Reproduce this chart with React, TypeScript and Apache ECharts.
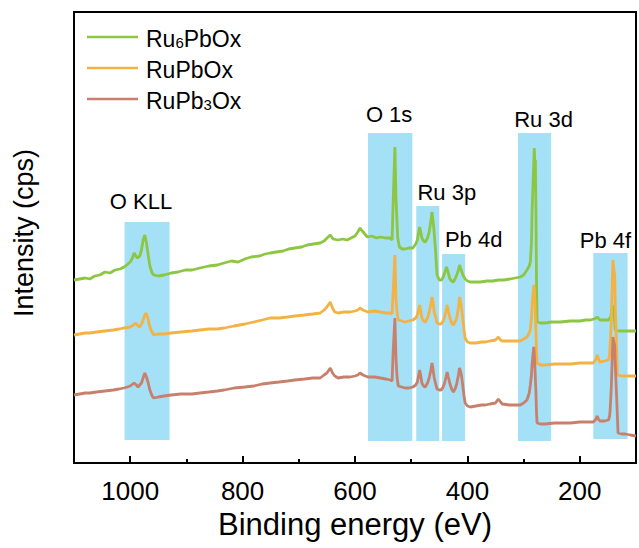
import React, { useEffect, useRef } from 'react';
import * as echarts from 'echarts';

// Axis ticks (binding energy, eV)
const majorTicks = [1000, 800, 600, 400, 200];
const minorTicks = [900, 700, 500, 300];

const seriesNames = ['Ru6PbOx', 'RuPbOx', 'RuPb3Ox'];

// [binding energy (eV), intensity (arb.)]
const ru6PbOx: [number, number][] = [
  [1100,183],[1090,184],[1080,185],[1072,184],[1063,187],[1054,188],[1045,191],[1036,190],[1027,193],[1018,194],[1011,196],[1004,199],[1000,201],[996,205],[993,210],[990,207],[987,205],[983,207],[980,213],[977,223],[974,228],[971,220],[968,208],[965,197],[961,190],[958,188],[950,187],[940,188],[927,190],[915,191],[902,193],[890,193],[876,195],[860,197],[845,198],[833,200],[820,202],[808,201],[796,204],[785,206],[770,207],[760,209],[751,210],[740,211],[728,212],[718,214],[707,215],[695,216],[685,218],[674,219],[662,220],[655,222],[648,226],[644,228],[639,224],[630,223],[622,224],[614,223],[607,225],[600,227],[595,231],[591,235],[587,232],[584,230],[578,226],[570,227],[562,225],[555,226],[546,225],[537,225],[534,223],[532,263],[529,316],[527,263],[524,225],[521,216],[516,214],[511,214],[504,215],[497,215],[492,219],[489,223],[487,230],[485,236],[483,231],[481,225],[478,222],[475,221],[471,225],[468,231],[465,242],[463,251],[460,236],[457,215],[454,188],[450,183],[446,183],[443,186],[440,191],[437,196],[434,190],[431,184],[428,182],[425,181],[422,184],[419,188],[416,193],[414,198],[411,193],[408,188],[404,184],[400,182],[395,181],[385,181],[377,181],[365,182],[355,182],[345,183],[335,183],[324,184],[315,185],[306,186],[300,188],[294,193],[290,197],[288,201],[286,220],[285,250],[283,283],[281,315],[280,300],[279,303],[278,250],[277,180],[276,141],[270,140],[262,140],[250,141],[235,141],[217,142],[200,142],[190,143],[181,143],[175,144],[171,145],[169,146],[166,144],[164,143],[156,143],[149,143],[145,146],[142,158],[139,150],[137,133],[130,132],[119,132],[110,132],[100,132]
];

const ruPbOx: [number, number][] = [
  [1100,128],[1090,129],[1080,130],[1072,130],[1060,131],[1045,132],[1030,133],[1020,134],[1011,135],[1000,136],[994,138],[990,140],[986,137],[983,136],[979,140],[976,145],[972,150],[969,146],[966,138],[963,133],[958,128],[950,129],[940,129],[927,130],[910,131],[890,132],[876,133],[860,134],[845,134],[833,135],[815,137],[796,139],[780,141],[765,143],[751,145],[735,145],[720,146],[707,147],[690,148],[675,149],[662,150],[655,153],[650,156],[644,161],[640,155],[636,151],[630,150],[620,151],[609,151],[600,152],[595,153],[591,155],[586,153],[577,151],[565,152],[555,151],[545,150],[537,150],[534,149],[532,173],[529,208],[527,163],[525,150],[523,143],[517,142],[511,141],[504,142],[497,143],[492,145],[489,148],[487,153],[485,158],[483,152],[481,145],[478,142],[475,141],[471,145],[468,151],[465,159],[463,166],[461,160],[459,151],[456,145],[454,140],[450,139],[447,139],[444,141],[441,145],[438,152],[436,158],[434,152],[431,145],[428,140],[425,138],[422,141],[419,145],[416,155],[414,166],[411,158],[409,148],[406,133],[404,125],[400,121],[395,120],[385,120],[375,121],[368,121],[360,122],[350,123],[345,126],[341,123],[338,122],[325,122],[315,122],[306,122],[300,124],[294,126],[290,130],[288,133],[286,145],[285,158],[283,170],[282,178],[281,172],[280,163],[278,130],[277,110],[276,100],[270,98],[262,98],[245,99],[230,99],[217,99],[200,100],[185,100],[176,100],[171,104],[169,108],[166,103],[164,101],[156,102],[149,103],[147,108],[146,118],[144,140],[143,163],[141,203],[140,196],[138,188],[137,160],[135,123],[133,88],[125,87],[119,87],[110,87],[100,87]
];

const ruPb3Ox: [number, number][] = [
  [1100,68],[1090,69],[1080,70],[1072,70],[1060,71],[1045,72],[1030,73],[1020,74],[1011,75],[1000,77],[993,80],[989,78],[986,76],[980,80],[977,85],[974,90],[971,86],[968,80],[965,73],[961,67],[958,65],[950,66],[940,67],[927,68],[910,69],[890,69],[876,70],[860,71],[845,72],[833,73],[815,75],[796,76],[780,77],[765,79],[751,80],[735,81],[720,82],[707,83],[690,84],[675,85],[662,85],[655,88],[650,90],[644,95],[640,90],[636,87],[630,85],[620,86],[609,86],[600,87],[595,88],[591,90],[586,88],[577,86],[565,86],[555,85],[545,84],[537,83],[534,82],[532,113],[529,145],[527,103],[525,85],[523,77],[517,76],[511,75],[504,75],[497,76],[492,78],[489,81],[487,87],[485,93],[483,87],[481,80],[478,77],[475,76],[471,80],[468,85],[465,93],[463,100],[461,93],[459,85],[456,78],[454,74],[450,73],[447,73],[444,75],[441,79],[438,86],[436,91],[434,86],[431,79],[428,74],[425,71],[422,74],[419,79],[416,88],[414,95],[411,89],[409,81],[406,67],[404,60],[400,57],[395,56],[385,57],[375,58],[368,58],[360,59],[350,60],[345,64],[341,61],[338,59],[325,58],[315,58],[306,58],[300,60],[294,63],[290,70],[288,78],[286,88],[285,98],[283,110],[282,116],[281,110],[280,98],[278,70],[277,50],[276,40],[270,39],[262,39],[245,40],[230,40],[217,40],[200,41],[185,41],[176,41],[171,44],[169,47],[166,43],[164,42],[156,42],[149,43],[147,47],[146,53],[144,75],[143,93],[141,126],[140,122],[138,118],[137,100],[135,73],[133,45],[132,30],[125,29],[119,29],[110,28],[100,27]
];

// Highlighted regions
const bandLabels = ['O KLL', 'O 1s', 'Ru 3p', 'Pb 4d', 'Ru 3d', 'Pb 4f'];
const bandStart = [1010, 577, 491, 445, 310, 176];
const bandEnd = [930, 498, 450, 404, 251, 115];
const bandTop = [241, 330, 257, 209, 330, 210];
const bandBottom = [23, 22, 22, 22, 22, 24];

// label placement styling (pixels)
const labelOffsetX = [-6, -1, 19, 20, 9, -5];
const labelDistance = [10, 8, 3, 4, 3, 2];

const colors = ['#8DC641', '#F4B245', '#C8806D'];
const FONT = '"Liberation Sans", Arial, Helvetica, sans-serif';

export default function App() {
  const ref = useRef<HTMLDivElement>(null);
  useEffect(() => {
    if (!ref.current) return;
    const chart = echarts.init(ref.current, null, { renderer: 'svg' });
    const datasets = [ru6PbOx, ruPbOx, ruPb3Ox];
    const markData = bandLabels.map((name, i) => [
      {
        name,
        xAxis: bandStart[i],
        yAxis: bandTop[i],
        label: {
          show: true,
          position: 'top',
          distance: labelDistance[i],
          offset: [labelOffsetX[i], 0],
          formatter: name,
          color: '#000',
          fontSize: 22,
          fontFamily: FONT,
        },
      },
      { xAxis: bandEnd[i], yAxis: bandBottom[i] },
    ]);
    const series = datasets.map((d, i) => ({
      name: seriesNames[i],
      type: 'line',
      data: d,
      symbol: 'none',
      showSymbol: false,
      lineStyle: { color: colors[i], width: 2.8 },
      itemStyle: { color: colors[i] },
      z: 3 + i,
      ...(i === 0
        ? {
            markArea: {
              silent: true,
              itemStyle: { color: '#A4E0F6', opacity: 1 },
              data: markData,
            },
          }
        : {}),
    }));
    chart.setOption({
      animation: false,
      grid: {
        left: 74,
        right: 3,
        top: 12,
        bottom: 85,
        show: true,
        borderColor: '#000',
        borderWidth: 2,
        backgroundColor: 'transparent',
      },
      legend: {
        orient: 'vertical',
        left: 82,
        top: 22,
        icon: 'rect',
        itemWidth: 51,
        itemHeight: 2.5,
        itemGap: 8,
        data: seriesNames,
        formatter: (name: string) =>
          '{n|' + name.replace(/(\d)/, '}{s|$1}{n|') + '}',
        textStyle: {
          color: '#000',
          fontFamily: FONT,
          padding: [0, 0, 0, 3],
          rich: {
            n: { fontSize: 23, lineHeight: 26, verticalAlign: 'bottom', fontFamily: FONT, color: '#000' },
            s: { fontSize: 15, lineHeight: 5, verticalAlign: 'bottom', fontFamily: FONT, color: '#000' },
          },
        },
      },
      xAxis: [
        {
          type: 'value',
          min: 100,
          max: 1100,
          inverse: true,
          position: 'bottom',
          name: 'Binding energy (eV)',
          nameLocation: 'middle',
          nameGap: 46,
          nameTextStyle: { fontSize: 31, color: '#000', fontFamily: FONT },
          axisLine: { show: true, onZero: false, lineStyle: { color: '#000', width: 2 } },
          axisTick: { show: true, inside: true, length: 7, customValues: majorTicks, lineStyle: { color: '#000', width: 2 } },
          axisLabel: {
            show: true,
            customValues: majorTicks,
            formatter: (v: number) => String(v),
            fontSize: 26,
            color: '#000',
            margin: 15,
            fontFamily: FONT,
          },
          splitLine: { show: false },
        },
        {
          type: 'value',
          min: 100,
          max: 1100,
          inverse: true,
          position: 'bottom',
          offset: 0,
          axisLine: { show: false },
          axisTick: { show: true, inside: true, length: 4, customValues: minorTicks, lineStyle: { color: '#000', width: 2 } },
          axisLabel: { show: false },
          splitLine: { show: false },
        },
      ],
      yAxis: {
        type: 'value',
        min: 0,
        max: 451,
        name: 'Intensity (cps)',
        nameLocation: 'middle',
        nameGap: 37,
        nameTextStyle: { fontSize: 27, color: '#000', fontFamily: FONT, padding: [0, 0, 0, 9] },
        axisLine: { show: true, onZero: false, lineStyle: { color: '#000', width: 2 } },
        axisTick: { show: false },
        axisLabel: { show: false },
        splitLine: { show: false },
      },
      series,
    });
    return () => chart.dispose();
  }, []);
  return (
    <div
      ref={ref}
      style={{ position: 'absolute', left: 0, top: 0, width: 639, height: 548, background: '#fff' }}
    />
  );
}
